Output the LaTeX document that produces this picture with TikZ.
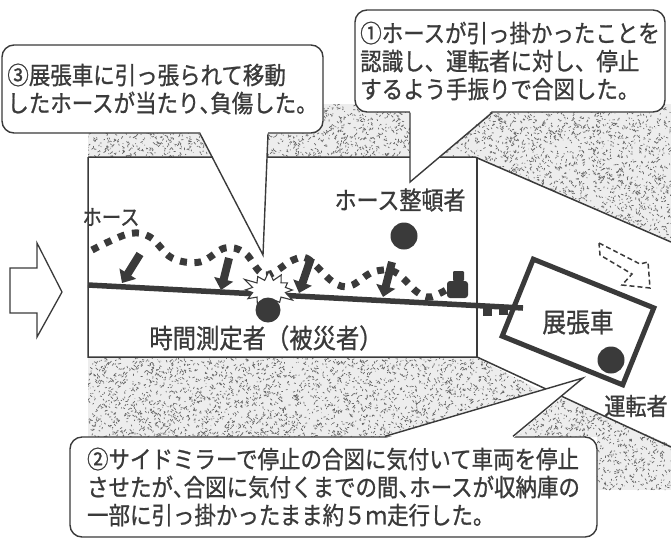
\documentclass[tikz,border=0pt]{standalone}
\usepackage{xcolor}
\usepackage{fontspec}
\newfontfamily\jp[FakeStretch=0.88,FakeBold=0.9]{Noto Sans CJK JP}
\usepackage{tikz}
\usetikzlibrary{arrows.meta}
\usetikzlibrary{shapes.symbols}
\usetikzlibrary{calc}

\definecolor{ink}{HTML}{3A3A3A}

% half width comma
\newcommand\tou{\makebox[10.75pt][l]{、}}

% speckled ground: outline, x range, y range, number of specks
\newcommand\groundpatch[6]{%
  \begin{scope}
    \clip #1;
    \fill[ground] (#2,#4) rectangle (#3,#5);
    \foreach \k in {1,...,#6}{%
      \pgfmathsetmacro\gx{#2+rnd*(#3-#2)}%
      \pgfmathsetmacro\gy{#4+rnd*(#5-#4)}%
      \draw[speck] (\gx,\gy) -- ++({2.4*rand},{2.4*rand});
    }
  \end{scope}}

\begin{document}
\begin{tikzpicture}[x=1pt,y=-1pt,
    road/.style={draw=ink,line width=1.5pt},
    ground/.style={fill=black!7},
    speck/.style={draw=black!60,line width=0.7pt},
    person/.style={circle,fill=ink,inner sep=0pt,minimum size=27pt},
    push/.style={draw=ink,line width=8pt,-{Triangle[width=19pt,length=11pt]}},
    hose/.style={draw=ink,line width=7pt,dash pattern=on 7pt off 7.5pt},
    tag/.style={text=ink,inner sep=0pt,font=\jp\fontsize{25}{28}\selectfont},
    bubble/.style={draw=ink,line width=1.4pt,fill=white,rounded corners=12pt,
        align=left,text=ink,inner sep=0pt,font=\jp\fontsize{24.4}{28}\selectfont},
    bubbleline/.style={draw=ink,line width=1.4pt,line join=miter},
  ]
    \useasboundingbox (0,0) rectangle (671,542);
    \clip (0,0) rectangle (671,542);

    % ground beside the road
    \pgfmathsetseed{7}
    \groundpatch{(88,132) rectangle (230,157)}{88}{230}{132}{157}{280}
    \groundpatch{(266,104) rectangle (411,157)}{266}{411}{104}{157}{600}
    \groundpatch{(425,157) -- (425,104) -- (671,104) -- (671,242) -- (475,157) -- cycle}{425}{671}{104}{242}{2600}
    \groundpatch{(88,358) -- (477,358) -- (540,390) -- (385,437) -- (88,437) -- cycle}{88}{540}{358}{437}{2800}
    \groundpatch{(562,398) -- (671,445) -- (671,490) -- (597,490) -- (597,437) -- (513,437) -- cycle}{513}{671}{398}{490}{1100}

    % road edges
    \draw[road] (88,157) -- (475,157) -- (671,242);
    \draw[road] (88,157) -- (88,357) -- (477,357) -- (671,447);
    \draw[road] (477,157) -- (477,357);

    % hose being dragged
    \draw[hose] plot[smooth,tension=0.6] coordinates {(92,250) (128,234) (150,237) (172,258)
        (200,262) (225,248) (245,253) (265,275) (293,260) (308,259) (333,282) (350,286)
        (373,272) (395,272) (417,292) (430,297) (446,290)};
    \fill[ink,rounded corners=1pt] (453,271) rectangle (464,281);
    \fill[ink,rounded corners=3pt] (447,281) rectangle (468,298);

    % laid hose line
    \draw[ink,line width=5.5pt] (88,285) coordinate (lineA) -- (523,308) coordinate (lineB);
    \fill[ink] (483,307) rectangle (492,316);
    \fill[ink] (499,307) rectangle (508,315);

    \draw[push] (140,254) -- (122,283);
    \draw[push] (229,258) -- (221,290);
    \draw[push] (311,258) -- (299,293);
    \draw[push] (392,262) -- (383,297);

    \node[starburst,draw=ink,fill=white,line width=1.1pt,minimum width=58pt,minimum height=44pt,
        starburst points=12,starburst point height=12pt,inner sep=0pt] (hit) at (269,290) {};
    \node[person,minimum size=25pt] (victim) at (268,310) {};
    \node[person] (tidier) at (404,236) {};

    % extension truck
    \node[draw=ink,line width=5pt,rotate=-22,minimum width=130pt,minimum height=83pt,
        inner sep=0pt] (truck) at (578,322) {};
    \node[person] (driver) at (611,360) {};

    \node[tag,font=\jp\fontsize{22}{24}\selectfont] (hoselbl) at (111,217) {ホース};
    \node[tag] (tidierlbl) at (400,200) {ホース整頓者};
    \node[tag,font=\jp\fontsize{26.5}{28}\selectfont] (victimlbl) at (266,338) {時間測定者（被災者）};
    \node[tag,font=\jp\fontsize{27}{28}\selectfont] (trucklbl) at (truck.center) {展張車};
    \node[tag,font=\jp\fontsize{24}{28}\selectfont] (driverlbl) at (636,406) {運転者};

    % speech bubbles
    \node[bubble,minimum width=310pt,minimum height=102pt] (note1) at (510,61)
        {①ホースが引っ掛かったことを\\認識し、運転者に対し、停止\\するよう手振りで合図した。};
    \coordinate (tip1) at (410,182);
    \fill[white] ($(note1.south)+(-100,-2)$) -- (tip1) -- ($(note1.south)+(-18,-2)$) -- cycle;
    \draw[bubbleline] ($(note1.south)+(-100,0)$) -- (tip1) -- ($(note1.south)+(-18,0)$);

    \node[bubble,minimum width=321pt,minimum height=88pt] (note3) at (162.5,89)
        {③展張車に引っ張られて移動\\したホースが当たり\tou 負傷した。};
    \coordinate (tip3) at (263,255);
    \fill[white] ($(note3.south)+(37.5,-2)$) -- (tip3) -- ($(note3.south)+(105.5,-2)$) -- cycle;
    \draw[bubbleline] ($(note3.south)+(37.5,0)$) -- (tip3) -- ($(note3.south)+(105.5,0)$);

    \node[bubble,minimum width=527pt,minimum height=100pt] (note2) at (333.5,487)
        {②サイドミラーで停止の合図に気付いて車両を停止\\させたが\tou 合図に気付くまでの間\tou ホースが収納庫の\\一部に引っ掛かったまま約５ｍ走行した。};
    \coordinate (tip2) at (583,378);
    \fill[white] ($(note2.north)+(51.5,2)$) -- (tip2) -- ($(note2.north)+(179.5,2)$) -- cycle;
    \draw[bubbleline] ($(note2.north)+(51.5,0)$) -- (tip2) -- ($(note2.north)+(179.5,0)$);

    % travel direction of the truck
    \draw[ink,line width=1.5pt,dash pattern=on 5pt off 3pt] (599,243) -- (640,264) -- (648,262)
        -- (650,288) -- (622,285) -- (632,274) -- (600,255) -- cycle;

    % big arrow on the left
    \draw[ink,line width=1.3pt] (10,268) -- (37,268) -- (37,243) -- (62,292) -- (37,337)
        -- (37,313) -- (10,313) -- cycle;
\end{tikzpicture}
\end{document}
